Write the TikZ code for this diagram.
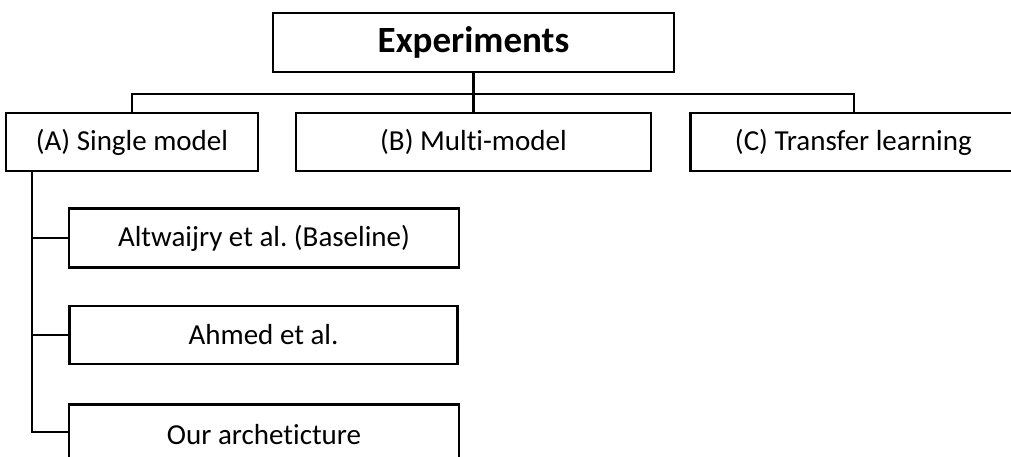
\documentclass[tikz,border=0pt]{standalone}
\usepackage{fontspec}
\setmainfont{Carlito}[Ligatures={NoCommon}]
\frenchspacing
\begin{document}
\begin{tikzpicture}[x=1pt,y=-1pt,
  box/.style={draw=black,line width=2.7pt,fill=white,inner sep=0pt,font=\fontsize{29}{34}\selectfont},
  conn/.style={draw=black,line width=2.7pt}]
\useasboundingbox (0,0) rectangle (1011,456);
\clip (0,0) rectangle (1011,456);
\fill[white] (0,0) rectangle (1011,456);
\node[box,minimum width=401pt,minimum height=59pt,font=\bfseries\fontsize{37}{42}\selectfont] (exp) at (473.5,42.5) {Experiments};
\node[box,minimum width=252pt,minimum height=58pt] (a) at (132,142) {(A) Single model};
\node[box,minimum width=355pt,minimum height=58pt] (b) at (473.5,142) {(B) Multi-model};
\node[box,minimum width=326pt,minimum height=58pt,anchor=west] (c) at (689,142) {(C) Transfer learning\hspace{6pt}};
\node[box,minimum width=390pt,minimum height=59pt] (s1) at (264,238) {Altwaijry et al. (Baseline)};
\node[box,minimum width=388pt,minimum height=58pt] (s2) at (263.5,335) {Ahmed et al.};
\node[box,minimum width=390pt,minimum height=60pt,anchor=north] (s3) at (264,403) {Our archeticture};
\coordinate (bus) at (473.5,94);
\draw[conn] (exp.south) -- (b.north);
\draw[conn] (a.north) |- (bus) -| (854,113);
\draw[conn] (32,171) |- (s1.west);
\draw[conn] (32,171) |- (s2.west);
\draw[conn] (32,171) |- (s3.west |- 432,432);
\end{tikzpicture}
\end{document}
